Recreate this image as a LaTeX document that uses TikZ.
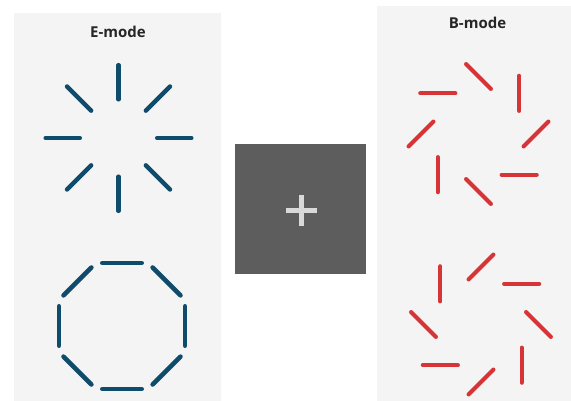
\documentclass[tikz,border=0pt]{standalone}
\usepackage{fontspec}
\setmainfont{Open Sans}
\definecolor{panelbg}{HTML}{F4F4F4}
\definecolor{emodeblue}{HTML}{0F4C6B}
\definecolor{bmodered}{HTML}{D63436}
\definecolor{boxgray}{HTML}{5D5D5D}
\definecolor{plusgray}{HTML}{D9D9D9}
\definecolor{titlegray}{HTML}{262626}
\tikzset{
  panel/.style={fill=panelbg, draw=none},
  eseg/.style={draw=emodeblue, line width=4.5pt, line cap=round},
  bseg/.style={draw=bmodered, line width=4.2pt, line cap=round},
  title/.style={font=\bfseries\fontsize{15}{18}\selectfont, text=titlegray, inner sep=0pt},
}
\begin{document}
\begin{tikzpicture}[x=1pt,y=-1pt]
\useasboundingbox (0,0) rectangle (571,401);
\fill[white] (0,0) rectangle (571,401);
% panels
\path[panel] (14,13) rectangle (221,401);
\path[panel] (377,6) rectangle (571,401);
\node[title] (etitle) at (118,32) {E-mode};
\node[title] (btitle) at (477.5,23) {B-mode};
% E-mode radial star
\foreach \t in {0,45,...,315}{
  \draw[eseg] ({118.5+38.7*cos(\t)},{138-38.7*sin(\t)}) -- ({118.5+72.8*cos(\t)},{138-72.8*sin(\t)});
}
% E-mode ring (octagon)
\foreach \t in {0,45,...,315}{
  \draw[eseg] ({122+63*cos(\t)+19.75*cos(\t+90)},{326-63*sin(\t)-19.75*sin(\t+90)}) -- ({122+63*cos(\t)-19.75*cos(\t+90)},{326-63*sin(\t)+19.75*sin(\t+90)});
}
% B-mode top pinwheel
\foreach \t in {0,45,...,315}{
  \draw[bseg] ({478.5+57.5*cos(\t)+17.5*cos(\t+45)},{134-57.5*sin(\t)-17.5*sin(\t+45)}) -- ({478.5+57.5*cos(\t)-17.5*cos(\t+45)},{134-57.5*sin(\t)+17.5*sin(\t+45)});
}
% B-mode bottom pinwheel
\foreach \t in {0,45,...,315}{
  \draw[bseg] ({481+57.5*cos(\t)+17.5*cos(\t-45)},{324.5-57.5*sin(\t)-17.5*sin(\t-45)}) -- ({481+57.5*cos(\t)-17.5*cos(\t-45)},{324.5-57.5*sin(\t)+17.5*sin(\t-45)});
}
% plus box
\fill[boxgray] (235,144) rectangle (366,274);
\fill[plusgray] (285.7,207.7) rectangle (316.7,212.7);
\fill[plusgray] (298.5,195) rectangle (303.5,225.7);
\end{tikzpicture}
\end{document}
